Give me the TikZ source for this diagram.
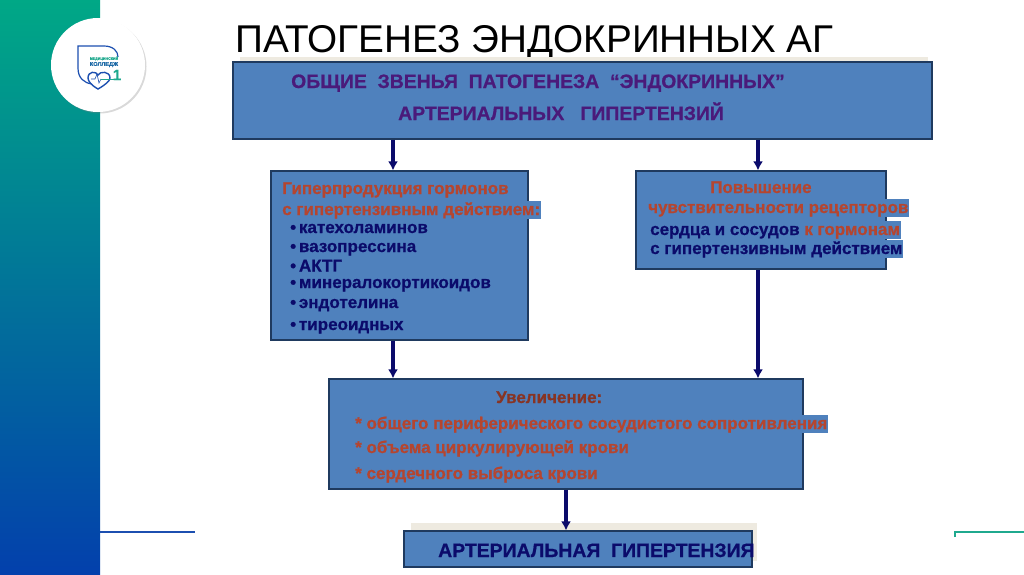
\documentclass[tikz,border=0pt]{standalone}
\usepackage{fontspec}
\setmainfont[BoldFeatures={FakeBold=0.7}]{Liberation Sans}
\usetikzlibrary{shadows,arrows.meta}
\definecolor{boxblue}{HTML}{4F81BD}
\definecolor{boxline}{HTML}{1F3A5F}
\definecolor{navy}{HTML}{0B0B6B}
\definecolor{brick}{HTML}{B5452F}
\definecolor{plum}{HTML}{4A1A7A}
\definecolor{sand}{HTML}{EEEAE0}
\definecolor{stripgreen}{HTML}{00A886}
\definecolor{stripblue}{HTML}{0340AC}
\definecolor{logoblue}{HTML}{1C4FB0}
\definecolor{logogreen}{HTML}{1FA98E}
\tikzset{
  flowbox/.style={draw=boxline, line width=1.2pt, fill=boxblue, minimum width=#1, inner sep=0pt},
  redline/.style={anchor=west, inner sep=1pt, text=brick, text height=13pt, text depth=3pt, font=\fontsize{17}{17}\selectfont\bfseries},
  navyline/.style={anchor=west, inner sep=1pt, text=navy, text height=13pt, text depth=3pt, font=\fontsize{17}{17}\selectfont\bfseries},
  plumline/.style={anchor=west, inner sep=0pt, text=plum, text height=15pt, text depth=4pt, font=\fontsize{19.4}{19.4}\selectfont\bfseries},
  patch/.style={fill=boxblue},
  flowarrow/.style={-{Latex[length=9pt,width=10pt]}, navy, line width=3.4pt},
}
\begin{document}
\begin{tikzpicture}[x=1pt,y=-1pt]
\useasboundingbox (0,0) rectangle (1024,574);
% left strip and logo
\shade[top color=stripgreen, bottom color=stripblue] (0,0) rectangle (100,574);
\node[circle, fill=white, minimum size=94pt, inner sep=0pt, drop shadow={shadow xshift=1.5pt, shadow yshift=-1.5pt, opacity=.3}] (badge) at (98,65) {};
\draw[logoblue, line width=1.2pt] (92,84) .. controls (84,83) and (78,78) .. (78,68) -- (78,46) -- (104,46) .. controls (113,46) and (118,51) .. (118,57);
\draw[logoblue, line width=1.4pt, fill=white] (98,89) .. controls (91,85) and (88,81) .. (88,78) .. controls (88,71) and (96,71) .. (98,75) .. controls (100,71) and (110,71) .. (110,78) .. controls (110,81) and (105,85) .. (98,89) -- cycle;
\draw[logoblue, line width=.6pt] (91,79) -- (95,79) -- (97,74) -- (99,83) -- (101,79);
\draw[logogreen, line width=1pt] (101,79) -- (116,79);
\node[text=logogreen, inner sep=0pt, font=\fontsize{3.6}{4}\selectfont\bfseries] (logotop) at (104,58.5) {МЕДИЦИНСКИЙ};
\node[text=logoblue!70!logogreen, inner sep=0pt, font=\fontsize{5.6}{6}\selectfont\bfseries] (logomid) at (104,64.5) {КОЛЛЕДЖ};
\node[text=logogreen, inner sep=0pt, font=\fontsize{15}{15}\selectfont\bfseries] (logoone) at (117,75) {1};
% footer lines
\draw[logoblue, line width=2pt] (100,531.5) -- (195,531.5);
\draw[logogreen, line width=2pt] (955,537) -- (955,531.5) -- (1024,531.5);
% title
\node[anchor=west, inner sep=0pt, font=\fontsize{38.7}{39}\selectfont] (title) at (235,43) {ПАТОГЕНЕЗ ЭНДОКРИННЫХ АГ};
% sand patches behind boxes
\fill[sand] (240,57) rectangle (928,63);
\fill[sand] (411,523) rectangle (757,561);
% boxes
\node[flowbox=699pt, minimum height=77pt] (common) at (582.5,100.5) {};
\node[flowbox=257pt, minimum height=169pt] (hormones) at (399.5,255.5) {};
\node[flowbox=250pt, minimum height=98pt] (receptors) at (761,220) {};
\node[flowbox=474pt, minimum height=110pt] (increase) at (566,434) {};
\node[flowbox=348pt, minimum height=36pt] (hypertension) at (578,549) {};
% top box text
\node[plumline] (commonA) at (291,82.5) {ОБЩИЕ\ \ ЗВЕНЬЯ\ \ ПАТОГЕНЕЗА\ \ “ЭНДОКРИННЫХ”};
\node[plumline] (commonB) at (398,114.5) {АРТЕРИАЛЬНЫХ\ \ \ ГИПЕРТЕНЗИЙ};
% left box text
\node[redline] (hormA) at (281,189) {Гиперпродукция гормонов};
\node[redline, patch] (hormB) at (281,210) {с гипертензивным действием:};
\node[navyline] (hormC) at (289,228) {•\,катехоламинов};
\node[navyline] (hormD) at (289,247) {•\,вазопрессина};
\node[navyline] (hormE) at (289,266.5) {•\,АКТГ};
\node[navyline] (hormF) at (289,283) {•\,минералокортикоидов};
\node[navyline] (hormG) at (289,303) {•\,эндотелина};
\node[navyline] (hormH) at (289,325) {•\,тиреоидных};
% right box text
\node[redline] (recA) at (709,188) {Повышение};
\node[redline, patch] (recB) at (647,208) {чувствительности рецепторов};
\node[navyline, patch] (recC) at (649,230) {сердца и сосудов \textcolor{brick}{к гормонам}};
\node[navyline, patch] (recD) at (649,249) {с гипертензивным действием};
% middle box text
\node[redline, text=brick!75!black] (incA) at (495,398) {Увеличение:};
\node[redline, patch] (incB) at (354,424) {* общего периферического сосудистого сопротивления};
\node[redline] (incC) at (354,448) {* объема циркулирующей крови};
\node[redline] (incD) at (354,474) {* сердечного выброса крови};
% bottom box text
\node[plumline, text=navy] (hyperText) at (438,551.5) {АРТЕРИАЛЬНАЯ\ \ ГИПЕРТЕНЗИЯ};
% connectors
\draw[flowarrow] ([xshift=-189.5pt]common.south) -- ([xshift=-6.5pt]hormones.north);
\draw[flowarrow] ([xshift=175.5pt]common.south) -- ([xshift=-3pt]receptors.north);
\draw[flowarrow] ([xshift=-6.5pt]hormones.south) -- ([xshift=-173pt]increase.north);
\draw[flowarrow] ([xshift=-3pt]receptors.south) -- ([xshift=192pt]increase.north);
\draw[flowarrow] (increase.south) -- ([xshift=-12pt]hypertension.north);
\end{tikzpicture}
\end{document}
